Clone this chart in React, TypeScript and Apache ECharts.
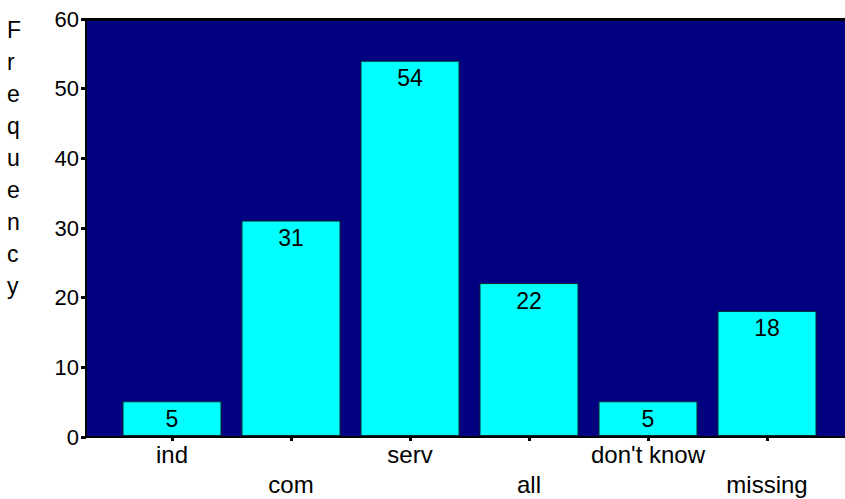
import React, { useEffect, useRef } from "react";
import * as echarts from "echarts";

// Frequency of each occupation category
const categories = ["ind", "com", "serv", "all", "don't know", "missing"];
const frequencies = [5, 31, 54, 22, 5, 18];
const yTicks = { min: 0, max: 60, interval: 10 };
const axisTitle = "Frequency";

const FONT = "'Liberation Sans', Arial, Helvetica, sans-serif";

export default function App() {
  const ref = useRef<HTMLDivElement>(null);

  useEffect(() => {
    document.body.style.margin = "0";
    if (!ref.current) return;
    const chart = echarts.init(ref.current, null, { renderer: "svg" });

    const plotTop = 19;
    const plotBottom = 62;

    chart.setOption({
      animation: false,
      textStyle: { fontFamily: FONT },
      graphic: [
        {
          type: "text",
          left: 7,
          top: 14,
          style: {
            text: axisTitle.split("").join("\n"),
            font: `23px ${FONT}`,
            lineHeight: 32,
            fill: "#000",
            align: "center",
            width: 22,
          },
        },
      ],
      grid: [
        {
          left: 86,
          right: 0,
          top: plotTop,
          bottom: plotBottom,
          show: true,
          backgroundColor: "#000080",
          borderWidth: 0,
        },
        {
          left: 112.5,
          width: 714,
          top: plotTop,
          bottom: plotBottom,
        },
      ],
      xAxis: [
        {
          gridIndex: 0,
          type: "value",
          min: 0,
          max: 1,
          position: "bottom",
          axisLine: { show: true, lineStyle: { color: "#000", width: 2 } },
          axisTick: { show: false },
          axisLabel: { show: false },
          splitLine: { show: false },
        },
        {
          gridIndex: 0,
          type: "value",
          min: 0,
          max: 1,
          position: "top",
          axisLine: { show: true, lineStyle: { color: "#000", width: 3 } },
          axisTick: { show: false },
          axisLabel: { show: false },
          splitLine: { show: false },
        },
        {
          gridIndex: 1,
          type: "category",
          data: categories,
          axisLine: { show: false },
          axisTick: {
            show: true,
            alignWithLabel: true,
            length: 5,
            lineStyle: { color: "#000", width: 3 },
          },
          axisLabel: {
            color: "#000",
            fontSize: 24,
            fontFamily: FONT,
            lineHeight: 30,
            margin: 3,
            interval: 0,
            formatter: (v: string, i: number) => (i % 2 === 1 ? "\n" + v : v),
          },
        },
      ],
      yAxis: [
        {
          gridIndex: 0,
          type: "value",
          min: yTicks.min,
          max: yTicks.max,
          interval: yTicks.interval,
          axisLine: { show: true, lineStyle: { color: "#000", width: 2 } },
          axisTick: { show: true, length: 5, lineStyle: { color: "#000", width: 3 } },
          axisLabel: { color: "#000", fontSize: 22, fontFamily: FONT, margin: 7 },
          splitLine: { show: false },
        },
        {
          gridIndex: 1,
          type: "value",
          min: yTicks.min,
          max: yTicks.max,
          interval: yTicks.interval,
          show: false,
          splitLine: { show: false },
        },
      ],
      series: [
        {
          type: "bar",
          xAxisIndex: 2,
          yAxisIndex: 1,
          data: frequencies,
          barWidth: 99,
          itemStyle: { color: "#00FFFF", borderColor: "#0a2a2a", borderWidth: 1 },
          label: {
            show: true,
            position: "insideTop",
            distance: 6,
            color: "#000",
            fontSize: 23,
            fontFamily: FONT,
          },
        },
      ],
    });

    return () => chart.dispose();
  }, []);

  return <div ref={ref} style={{ width: 845, height: 499 }} />;
}
